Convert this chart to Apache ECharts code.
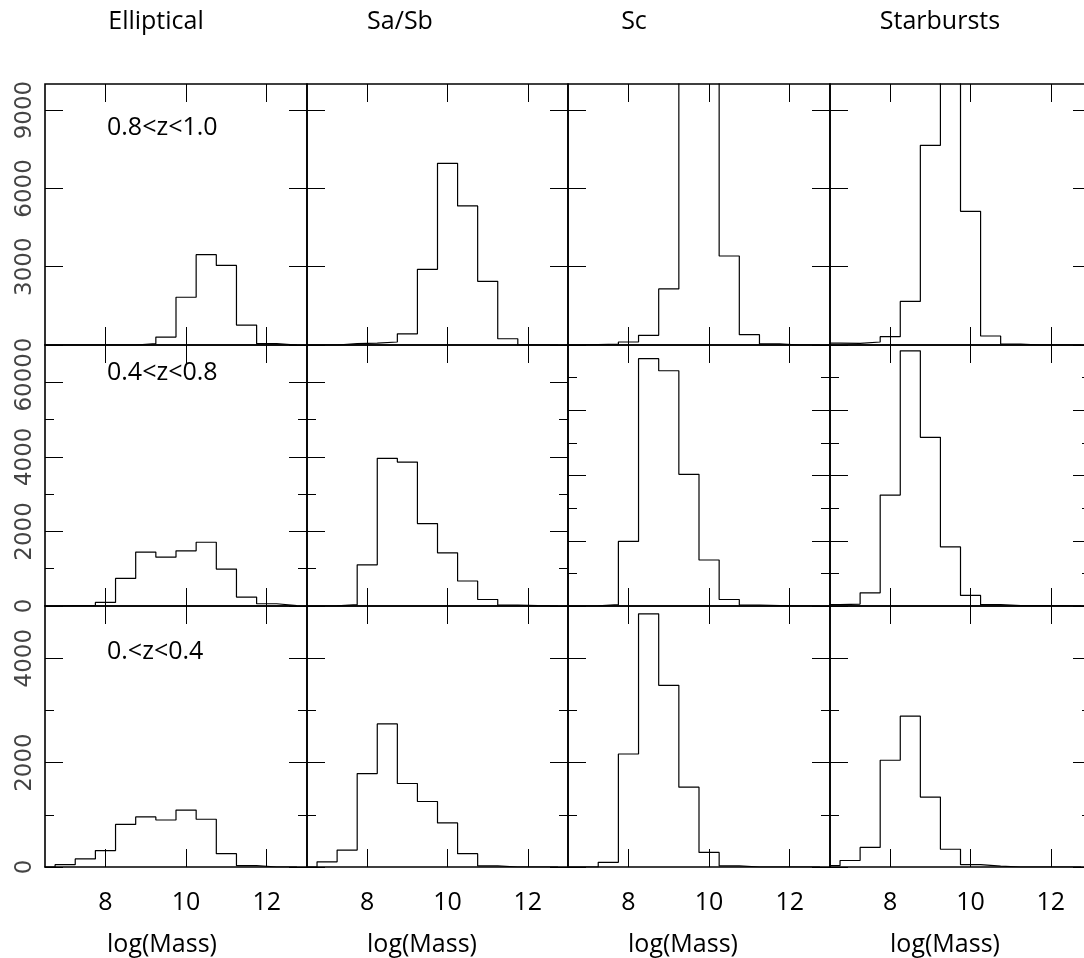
<!DOCTYPE html>
<html><head><meta charset="utf-8">
<script src="https://cdn.jsdelivr.net/npm/echarts@6/dist/echarts.min.js"></script>
<style>html,body{margin:0;padding:0;background:#fff}#c{width:1084px;height:958px}</style>
</head><body><div id="c"></div>
<script>
// ---------------- data ----------------
const morphTypes = ['Elliptical', 'Sa/Sb', 'Sc', 'Starbursts'];
const zLabels = ['0.8<z<1.0', '0.4<z<0.8', '0.<z<0.4'];
const xAxisTitle = 'log(Mass)';
// histogram bin centres in log(Mass), bin width 0.5
const massBins = [6.5, 7.0, 7.5, 8.0, 8.5, 9.0, 9.5, 10.0, 10.5, 11.0, 11.5, 12.0, 12.5];
const binWidth = 0.5;
const xTicks = [8, 10, 12];
const xRange = [6.5, 13];

// 0.8 < z < 1.0
const hiz_Elliptical = [0, 0, 0, 0, 0, 50, 305, 1830, 3460, 3050, 765, 50, 0];
const hiz_SaSb       = [0, 0, 50, 75, 115, 430, 2900, 6960, 5330, 2440, 240, 0, 0];
const hiz_Sc         = [0, 20, 30, 115, 370, 2150, 13500, 12000, 3410, 395, 40, 0, 0];
const hiz_Starbursts = [70, 60, 115, 320, 1670, 7650, 11500, 5120, 345, 30, 0, 0, 0];
// 0.4 < z < 0.8
const midz_Elliptical = [0, 10, 10, 95, 740, 1445, 1310, 1480, 1710, 990, 240, 60, 10];
const midz_SaSb       = [0, 5, 35, 1105, 3960, 3860, 2210, 1425, 670, 175, 25, 10, 0];
const midz_Sc         = [0, 5, 40, 1980, 7580, 7210, 4035, 1410, 200, 30, 10, 0, 0];
const midz_Starbursts = [40, 60, 405, 3400, 7820, 5170, 1810, 325, 40, 10, 10, 10, 0];
// 0. < z < 0.4
const lowz_Elliptical = [0, 45, 155, 315, 815, 960, 900, 1090, 915, 255, 25, 0, 0];
const lowz_SaSb       = [0, 100, 325, 1790, 2740, 1600, 1255, 845, 255, 20, 0, 0, 0];
const lowz_Sc         = [0, 0, 90, 2165, 4850, 3480, 1530, 280, 20, 0, 0, 0, 0];
const lowz_Starbursts = [25, 125, 375, 2045, 2890, 1340, 340, 45, 15, 0, 0, 0, 0];

const panelCounts = [
  [hiz_Elliptical, hiz_SaSb, hiz_Sc, hiz_Starbursts],
  [midz_Elliptical, midz_SaSb, midz_Sc, midz_Starbursts],
  [lowz_Elliptical, lowz_SaSb, lowz_Sc, lowz_Starbursts]
];
// y-axis upper limits per panel
const yMax = [
  [10000, 10000, 10000, 10000],
  [7000, 7000, 8000, 8000],
  [5000, 5000, 5000, 5000]
];
// labelled (major) y ticks per row, and minor tick step
const yMajorTicks = [[0, 3000, 6000, 9000], [0, 2000, 4000, 6000], [0, 2000, 4000]];
const yMinorStep = [0, 1000, 1000];

// ---------------- layout ----------------
const colLeft = [45, 307, 568, 830];
const colWidth = [262, 261, 262, 261];
const rowTop = [84, 345, 606];
const rowHeight = 261;
const FONT = 'Open Sans';

const grids = [], xAxes = [], yAxes = [], series = [], graphics = [];

function yAxis(gi, pos, max, ticks, len, labels) {
  return {
    gridIndex: gi, type: 'value', position: pos, min: 0, max: max,
    axisLine: { show: false, onZero: false },
    splitLine: { show: false },
    axisTick: { show: ticks.length > 0, inside: true, length: len, customValues: ticks,
                lineStyle: { color: '#000', width: 1 } },
    axisLabel: labels ? { show: true, customValues: ticks, rotate: 90, margin: 8,
                formatter: v => String(v),
                fontFamily: 'DejaVu Sans', fontSize: 23, color: '#444' } : { show: false }
  };
}

for (let r = 0; r < 3; r++) {
  for (let c = 0; c < 4; c++) {
    const gi = grids.length;
    grids.push({ left: colLeft[c], top: rowTop[r], width: colWidth[c], height: rowHeight,
                 show: true, borderColor: '#000', borderWidth: 1.6, backgroundColor: 'transparent',
                 outerBoundsMode: 'none', containLabel: false });
    const xi = xAxes.length;
    ['bottom', 'top'].forEach(pos => {
      xAxes.push({
        gridIndex: gi, type: 'value', position: pos, min: xRange[0], max: xRange[1],
        axisLine: { show: false, onZero: false }, splitLine: { show: false },
        axisTick: { show: true, inside: true, length: 18, customValues: xTicks,
                    lineStyle: { color: '#000', width: 1 } },
        axisLabel: (pos === 'bottom' && r === 2) ? { show: true, customValues: xTicks, margin: 23,
                    fontFamily: FONT, fontSize: 25, color: '#000' } : { show: false }
      });
    });
    const yi = yAxes.length;
    const max = yMax[r][c];
    const majors = yMajorTicks[r];
    const minors = [];
    if (yMinorStep[r] > 0) {
      majors.forEach(v => { if (v + yMinorStep[r] < max) minors.push(v + yMinorStep[r]); });
    }
    yAxes.push(yAxis(gi, 'left', max, majors, 18, c === 0));
    yAxes.push(yAxis(gi, 'left', max, minors, 9, false));
    yAxes.push(yAxis(gi, 'right', max, majors, 18, false));
    yAxes.push(yAxis(gi, 'right', max, minors, 9, false));

    const vals = panelCounts[r][c];
    const data = massBins.map((m, i) => [m - binWidth / 2, vals[i]]);
    data.push([massBins[massBins.length - 1] + binWidth / 2, vals[vals.length - 1]]);
    series.push({
      type: 'line', xAxisIndex: xi, yAxisIndex: yi, step: 'end', symbol: 'none',
      data: data, clip: true, silent: true,
      lineStyle: { color: '#000', width: 1.2 }
    });
  }
}

// column titles
const titleCenters = [156, 400, 634, 940];
morphTypes.forEach((t, c) => graphics.push({
  type: 'text', x: titleCenters[c], y: 22,
  style: { text: t, font: '25px "' + FONT + '"', fill: '#000', textAlign: 'center', textVerticalAlign: 'middle' }
}));
// redshift labels
const zLabelY = [128, 373, 652];
zLabels.forEach((t, r) => graphics.push({
  type: 'text', x: 107, y: zLabelY[r],
  style: { text: t, font: '25px "' + FONT + '"', fill: '#000', textAlign: 'left', textVerticalAlign: 'middle' }
}));
// x-axis titles
const xTitleCenters = [162, 422, 683, 945];
xTitleCenters.forEach(x => graphics.push({
  type: 'text', x: x, y: 945,
  style: { text: xAxisTitle, font: '25px "' + FONT + '"', fill: '#000', textAlign: 'center', textVerticalAlign: 'middle' }
}));

const chart = echarts.init(document.getElementById('c'), null, { renderer: 'canvas' });
chart.setOption({
  animation: false,
  backgroundColor: '#fff',
  grid: grids, xAxis: xAxes, yAxis: yAxes, series: series,
  graphic: graphics
});
</script></body></html>
